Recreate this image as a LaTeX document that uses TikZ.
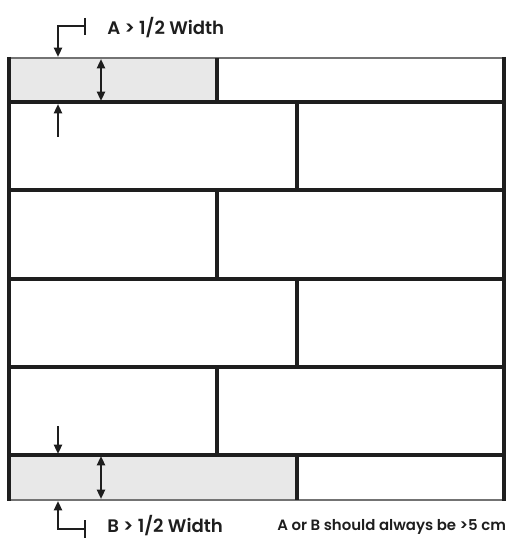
\documentclass[tikz,border=0pt]{standalone}
\usepackage{fontspec}
\setmainfont{Poppins}[BoldFont={* SemiBold}]
\usetikzlibrary{arrows.meta}
\definecolor{tilegray}{HTML}{E8E8E8}
\definecolor{ink}{HTML}{1E1E1E}
\tikzset{
  joint/.style={draw=ink, line width=2.4pt},
  edge/.style={draw=black!55, line width=1.1pt},
  dim/.style={draw=ink, line width=1.6pt, -{Triangle[length=7pt,width=6pt]}},
  dimboth/.style={draw=ink, line width=1.6pt, {Triangle[length=7pt,width=6pt]}-{Triangle[length=7pt,width=6pt]}},
  lab/.style={anchor=west, font=\bfseries\fontsize{13.6}{15}\selectfont, text=ink, inner sep=0pt},
  note/.style={anchor=west, font=\bfseries\fontsize{11.2}{13}\selectfont, text=ink, inner sep=0pt}
}
\begin{document}
\begin{tikzpicture}[x=0.75pt, y=-0.75pt]
\useasboundingbox (0,0) rectangle (511,538);
% gray strips
\fill[tilegray] (9,58) rectangle (217,102);
\fill[tilegray] (9,455) rectangle (297,500);
% outer top/bottom edges
\draw[edge] (9,58) -- (504,58);
\draw[edge] (9,500) -- (504,500);
% horizontal joints
\foreach \y in {102,190,279,367,455} \draw[joint] (9,\y) -- (504,\y);
% outer verticals
\draw[joint] (9,57) -- (9,501);
\draw[joint] (504,57) -- (504,501);
% vertical joints
\draw[joint] (217,58) -- (217,102);
\draw[joint] (297,102) -- (297,190);
\draw[joint] (217,190) -- (217,279);
\draw[joint] (297,279) -- (297,367);
\draw[joint] (217,367) -- (217,455);
\draw[joint] (297,455) -- (297,500);
% named coordinates
\coordinate (atick1) at (85,18);
\coordinate (atick2) at (85,35);
\coordinate (acorner) at (58,26);
\coordinate (atop) at (58,57);
\coordinate (abot) at (58,104);
\coordinate (aup) at (58,137);
\coordinate (da1) at (101,59);
\coordinate (da2) at (101,101);
\coordinate (db1) at (101,456);
\coordinate (db2) at (101,499);
\coordinate (bdown) at (58,426);
\coordinate (btop) at (58,454);
\coordinate (bbot) at (58,501);
\coordinate (bcorner) at (58,529);
\coordinate (btick1) at (85,520);
\coordinate (btick2) at (85,538);
% A markers
\draw[ink, line width=1.6pt] (atick1) -- (atick2);
\draw[dim] (85,26) -- (acorner) -- (atop);
\draw[dim] (aup) -- (abot);
\draw[dimboth] (da1) -- (da2);
% B markers
\draw[dim] (bdown) -- (btop);
\draw[dim] (85,529) -- (bcorner) -- (bbot);
\draw[ink, line width=1.6pt] (btick1) -- (btick2);
\draw[dimboth] (db1) -- (db2);
% labels
\node[lab] (la) at (107,28) {A > 1/2 Width};
\node[lab] (lb) at (107,526) {B > 1/2 Width};
\node[note] (ln) at (277,527) {A or B should always be >5 cm};
\end{tikzpicture}
\end{document}
